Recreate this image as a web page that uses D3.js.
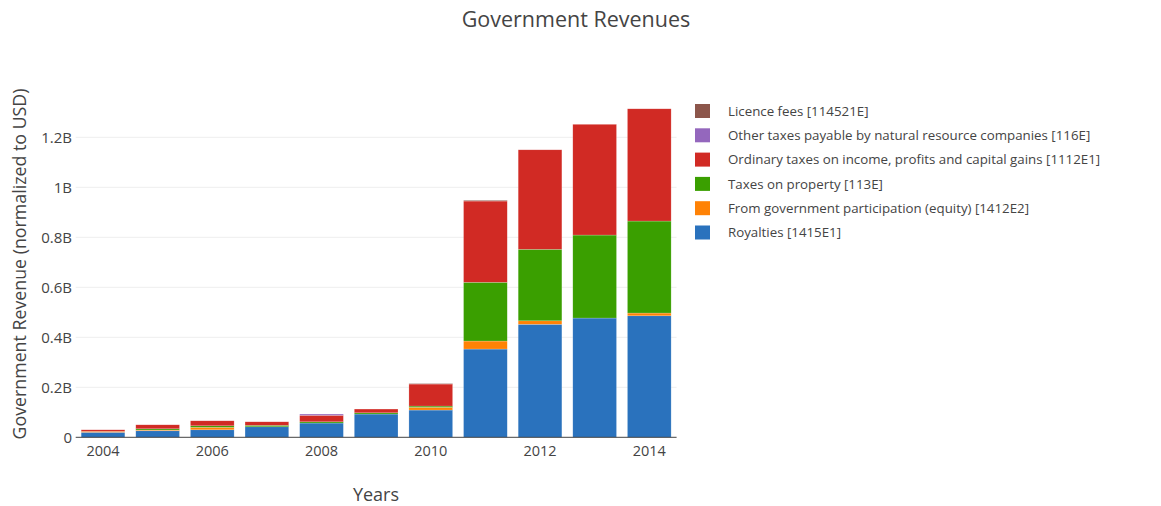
<!DOCTYPE html>
<meta charset="utf-8">
<style>
body { margin: 0; background: #fff; }
svg { font-family: "Open Sans", sans-serif; }
.grid line { stroke: #eee; }
</style>
<svg width="1161" height="506"></svg>
<script src="https://cdn.jsdelivr.net/npm/d3@7"></script>
<script>

// years on the x axis
var years = [2004, 2005, 2006, 2007, 2008, 2009, 2010, 2011, 2012, 2013, 2014];

// revenue by stream, in billions USD
var royalties  = [0.020, 0.026, 0.030, 0.042, 0.057, 0.093, 0.109, 0.353, 0.452, 0.477, 0.486];
var equity     = [0.004, 0.003, 0.010, 0.000, 0.000, 0.000, 0.011, 0.032, 0.014, 0.000, 0.011];
var property   = [0.000, 0.005, 0.006, 0.006, 0.005, 0.005, 0.005, 0.235, 0.286, 0.332, 0.368];
var income     = [0.006, 0.016, 0.020, 0.014, 0.026, 0.015, 0.088, 0.325, 0.398, 0.443, 0.449];
var otherTaxes = [0.000, 0.000, 0.000, 0.000, 0.005, 0.000, 0.000, 0.000, 0.000, 0.000, 0.000];
var licence    = [0.000, 0.000, 0.000, 0.000, 0.000, 0.000, 0.002, 0.003, 0.000, 0.000, 0.000];

var yTicks = [0, 0.2, 0.4, 0.6, 0.8, 1, 1.2];
var xTicks = [2004, 2006, 2008, 2010, 2012, 2014];

// stack order, bottom first
var series = [
  {name: "Royalties [1415E1]", values: royalties, color: "#2a72bd"},
  {name: "From government participation (equity) [1412E2]", values: equity, color: "#ff8205"},
  {name: "Taxes on property [113E]", values: property, color: "#3a9f00"},
  {name: "Ordinary taxes on income, profits and capital gains [1112E1]", values: income, color: "#d12a24"},
  {name: "Other taxes payable by natural resource companies [116E]", values: otherTaxes, color: "#9467bd"},
  {name: "Licence fees [114521E]", values: licence, color: "#8c564b"}
];

var svg = d3.select("svg");

var x = d3.scaleLinear().domain([2003.5, 2014.5]).range([75.7, 676.6]);
var y = d3.scaleLinear().domain([0, 1.2]).range([437.3, 137.3]);
var barW = (x(2005) - x(2004)) * 0.8;

// grid
svg.append("g").attr("class", "grid")
  .selectAll("line")
  .data(yTicks.slice(1))
  .enter().append("line")
    .attr("x1", x.range()[0]).attr("x2", x.range()[1])
    .attr("y1", function(d) { return y(d); })
    .attr("y2", function(d) { return y(d); });

// stacked bars
var rows = years.map(function(yr, i) {
  var r = {year: yr};
  series.forEach(function(s) { r[s.name] = s.values[i]; });
  return r;
});
var stack = d3.stack().keys(series.map(function(s) { return s.name; }))(rows);

svg.append("g").selectAll("g")
  .data(stack)
  .enter().append("g")
    .attr("fill", function(d, i) { return series[i].color; })
  .selectAll("rect")
  .data(function(d) { return d; })
  .enter().append("rect")
    .attr("x", function(d) { return x(d.data.year) - barW / 2; })
    .attr("width", barW)
    .attr("y", function(d) { return y(d[1]); })
    .attr("height", function(d) { return y(d[0]) - y(d[1]); })
    .attr("stroke", "rgba(255,255,255,0.4)")
    .attr("stroke-width", 0.5);

// zero line
svg.append("line")
  .attr("x1", x.range()[0]).attr("x2", x.range()[1])
  .attr("y1", y(0)).attr("y2", y(0))
  .attr("stroke", "#444").attr("stroke-width", 1);

// y tick labels
svg.append("g").selectAll("text")
  .data(yTicks)
  .enter().append("text")
    .attr("x", 72)
    .attr("y", function(d) { return y(d); })
    .attr("dy", "0.35em")
    .attr("text-anchor", "end")
    .attr("font-size", 15)
    .attr("fill", "#444")
    .text(function(d) { return d === 0 ? "0" : d + "B"; });

// x tick labels
svg.append("g").selectAll("text")
  .data(xTicks)
  .enter().append("text")
    .attr("x", function(d) { return x(d); })
    .attr("y", 456)
    .attr("text-anchor", "middle")
    .attr("font-size", 14.5)
    .attr("fill", "#444")
    .text(function(d) { return d; });

// titles
svg.append("text")
  .attr("x", 576).attr("y", 27)
  .attr("text-anchor", "middle")
  .attr("font-size", 21.5)
  .attr("fill", "#444")
  .text("Government Revenues");

svg.append("text")
  .attr("x", 376).attr("y", 501)
  .attr("text-anchor", "middle")
  .attr("font-size", 18)
  .attr("fill", "#444")
  .text("Years");

svg.append("text")
  .attr("transform", "translate(26,264) rotate(-90)")
  .attr("text-anchor", "middle")
  .attr("font-size", 17.8)
  .attr("fill", "#444")
  .text("Government Revenue (normalized to USD)");

// legend, top entry is last series
var legend = svg.append("g").selectAll("g")
  .data(series.slice().reverse())
  .enter().append("g")
    .attr("transform", function(d, i) { return "translate(695," + (111 + i * 24.3) + ")"; });

legend.append("rect")
  .attr("x", 0).attr("y", -7)
  .attr("width", 15).attr("height", 14)
  .attr("fill", function(d) { return d.color; });

legend.append("text")
  .attr("x", 33)
  .attr("dy", "0.35em")
  .attr("font-size", 13.3)
  .attr("fill", "#444")
  .text(function(d) { return d.name; });
</script>
